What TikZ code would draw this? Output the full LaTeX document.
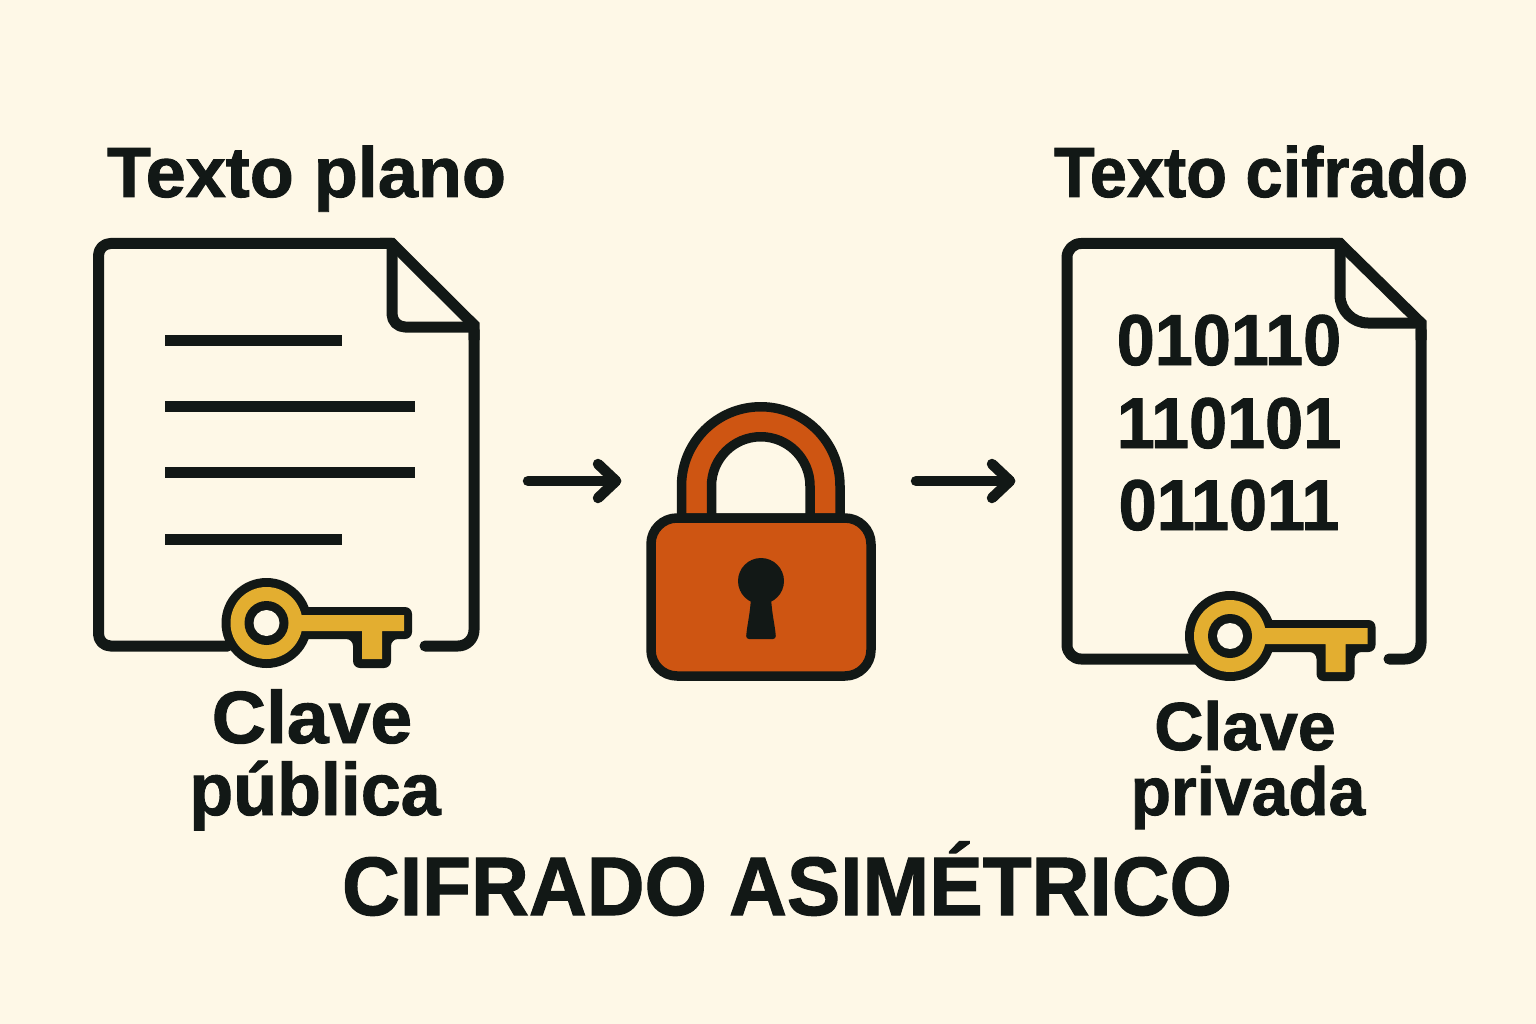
\documentclass[tikz,border=0pt]{standalone}
\usepackage{fontspec}
\setmainfont[BoldFeatures={FakeBold=1.3}]{Liberation Sans}
\definecolor{bgc}{HTML}{FEF8E7}
\definecolor{ink}{HTML}{121816}
\definecolor{orangec}{HTML}{CE5512}
\definecolor{goldc}{HTML}{E3AE30}
\newcommand{\keyicon}[2]{%
\begin{scope}[shift={(#1,#2)}]
 \fill[ink] (0,0) circle (45);
 \fill[ink,rounded corners=7] (30,-16) -- (145.5,-16) -- (145.5,16) -- (124.5,16) -- (124.5,45) -- (86.5,45) -- (86.5,16) -- (30,16) -- cycle;
 \fill[goldc] (0,0) circle (36);
 \fill[goldc] (30,-8) -- (137.5,-8) -- (137.5,8) -- (115.5,8) -- (115.5,36) -- (95.5,36) -- (95.5,8) -- (30,8) -- cycle;
 \fill[ink] (0,0) circle (22);
 \fill[bgc] (0,0) circle (13);
\end{scope}}
\newcommand{\sq}[2]{\scalebox{#1}[1]{#2}}
\tikzset{
 lbl/.style={font=\bfseries,text=ink,anchor=base,inner sep=0pt},
 outline/.style={draw=ink,line width=11pt,line join=round},
 lockline/.style={draw=ink,line width=9.5pt,line join=round},
 rule/.style={draw=ink,line width=11pt},
 flow/.style={draw=ink,line width=10.5pt,line cap=round,line join=round},
}
\begin{document}
\begin{tikzpicture}[x=1pt,y=-1pt]
\useasboundingbox (0,0) rectangle (1536,1024);
\fill[bgc] (0,0) rectangle (1536,1024);
% left document
\draw[outline,line cap=round,rounded corners=12] (228,646) -- (98.5,646) -- (98.5,243.5) -- (392,243.5);
\draw[outline,line join=miter] (380,243.5) -- (392,243.5) -- (474,325) -- (474,340);
\draw[outline,line cap=round,rounded corners=16] (474,330) -- (474,646) -- (425,646);
\draw[outline,rounded corners=13] (392,243.5) -- (392,327) -- (474,327);
\draw[rule] (165,340) -- (342,340);
\draw[rule] (165,406) -- (415,406);
\draw[rule] (165,472) -- (415,472);
\draw[rule] (165,539) -- (342,539);
\keyicon{266.5}{623}
% right document
\draw[outline,line cap=round,rounded corners=14] (1195,659) -- (1067,659) -- (1067,243.5) -- (1340,243.5);
\draw[outline,line join=miter] (1330,243.5) -- (1340,243.5) -- (1421,323) -- (1421,340);
\draw[outline,line cap=round,rounded corners=16] (1421,330) -- (1421,659) -- (1389,659);
\draw[outline,rounded corners=28] (1340,243.5) -- (1340,323) -- (1421,323);
\keyicon{1230}{636}
% lock
\filldraw[lockline,fill=orangec] (681.5,518) -- (681.5,486) arc[start angle=180,end angle=360,radius=79.25] -- (840,518) -- cycle;
\filldraw[lockline,fill=bgc] (711.5,518) -- (711.5,486) arc[start angle=180,end angle=360,radius=49.25] -- (810,518) -- cycle;
\filldraw[lockline,fill=orangec,rounded corners=26] (651,518) rectangle (871,676);
\fill[ink] (761,581) circle (23);
\fill[ink,rounded corners=3] (751,596) -- (771,596) .. controls (772,615) and (775,625) .. (776,639) -- (746,639) .. controls (747,625) and (750,615) .. (751,596) -- cycle;
% arrows
\coordinate (a1s) at (528,481); \coordinate (a1e) at (616,481);
\coordinate (a2s) at (916,481); \coordinate (a2e) at (1010,481);
\draw[flow] (a1s) -- (a1e);
\draw[flow] ([shift={(-18,-17)}]a1e) -- (a1e) -- ([shift={(-18,17)}]a1e);
\draw[flow] (a2s) -- (a2e);
\draw[flow] ([shift={(-18,-17)}]a2e) -- (a2e) -- ([shift={(-18,17)}]a2e);
% text
\node[lbl,font=\bfseries\fontsize{71}{71}\selectfont] (t1) at (306.5,197) {\sq{1.015}{Texto plano}};
\node[lbl,font=\bfseries\fontsize{71}{71}\selectfont] (t2) at (1261,197) {\sq{.94}{Texto cifrado}};
\node[lbl,font=\bfseries\fontsize{72}{72}\selectfont] (d1) at (1229,365) {\sq{.95}{010110}};
\node[lbl,font=\bfseries\fontsize{72}{72}\selectfont] (d2) at (1229,448) {\sq{.95}{110101}};
\node[lbl,font=\bfseries\fontsize{72}{72}\selectfont] (d3) at (1229,530) {\sq{.95}{011011}};
\node[lbl,font=\bfseries\fontsize{74}{74}\selectfont] (c1) at (312,743) {\sq{1.015}{Clave}};
\node[lbl,font=\bfseries\fontsize{74}{74}\selectfont] (p1) at (315,815) {\sq{.97}{pública}};
\node[lbl,font=\bfseries\fontsize{68}{68}\selectfont] (c2) at (1245,750) {Clave};
\node[lbl,font=\bfseries\fontsize{68}{68}\selectfont] (p2) at (1248,815) {\sq{.97}{privada}};
\node[lbl,font=\bfseries\fontsize{83}{83}\selectfont] (ti) at (787,915) {\sq{.965}{CIFRADO ASIMÉTRICO}};
\end{tikzpicture}
\end{document}
